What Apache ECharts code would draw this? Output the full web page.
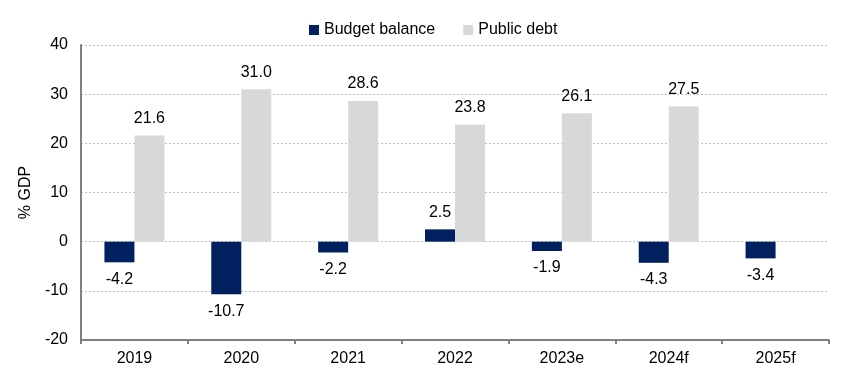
<!DOCTYPE html>
<html>
<head>
<meta charset="utf-8">
<script src="https://cdn.jsdelivr.net/npm/echarts@6/dist/echarts.min.js"></script>
<style>
  html, body { margin: 0; padding: 0; background: #fff; }
  #chart { width: 855px; height: 375px; }
</style>
</head>
<body>
<div id="chart"></div>
<script>
const years = ['2019', '2020', '2021', '2022', '2023e', '2024f', '2025f']
const budgetBalance = [-4.2, -10.7, -2.2, 2.5, -1.9, -4.3, -3.4]
const publicDebt = [21.6, 31.0, 28.6, 23.8, 26.1, 27.5, null]

const font = 'Arial, "Liberation Sans", sans-serif'
const myChart = echarts.init(document.getElementById('chart'))

const option = {
  animation: false,
  textStyle: { fontFamily: font },
  legend: {
    top: 17,
    left: 304,
    icon: 'rect',
    itemWidth: 10,
    itemHeight: 10,
    itemGap: 28,
    textStyle: { fontSize: 16, color: '#000', fontFamily: font },
    data: ['Budget balance', 'Public debt']
  },
  grid: { left: 81, right: 26, top: 45, bottom: 35 },
  xAxis: [{
    type: 'category',
    data: years,
    axisLine: { show: false },
    axisTick: { show: false },
    axisLabel: { color: '#000', fontSize: 16, margin: 11, fontFamily: font }
  }, {
    // axis line drawn at zero
    type: 'category',
    data: years,
    position: 'bottom',
    axisLine: { show: true, onZero: true, lineStyle: { color: '#808080', width: 2 } },
    axisTick: { show: true, length: 4, lineStyle: { color: '#808080', width: 2 } },
    axisLabel: { show: false }
  }],
  yAxis: {
    type: 'value',
    min: -20,
    max: 40,
    interval: 10,
    name: '% GDP',
    nameLocation: 'middle',
    nameGap: 45,
    nameTextStyle: { fontSize: 16, color: '#000', fontFamily: font },
    axisLine: { show: true, lineStyle: { color: '#808080', width: 2 } },
    axisTick: { show: false },
    axisLabel: { color: '#000', fontSize: 16, margin: 13, fontFamily: font },
    splitLine: { lineStyle: { color: '#c0c0c0', type: [2, 2], width: 1 } }
  },
  series: [{
    name: 'Budget balance',
    type: 'bar',
    barWidth: 30,
    barGap: '0%',
    itemStyle: { color: '#00205f' },
    label: {
      show: true,
      color: '#000',
      fontSize: 16,
      distance: 9,
      fontFamily: font,
      formatter: p => p.value.toFixed(1)
    },
    data: budgetBalance.map(v => ({ value: v, label: { position: v < 0 ? 'bottom' : 'top' } }))
  }, {
    name: 'Public debt',
    type: 'bar',
    barWidth: 30,
    barGap: '0%',
    itemStyle: { color: '#d8d8d8' },
    label: {
      show: true,
      position: 'top',
      color: '#000',
      fontSize: 16,
      distance: 9,
      fontFamily: font,
      formatter: p => p.value.toFixed(1)
    },
    data: publicDebt
  }]
}
myChart.setOption(option)
</script>
</body>
</html>
